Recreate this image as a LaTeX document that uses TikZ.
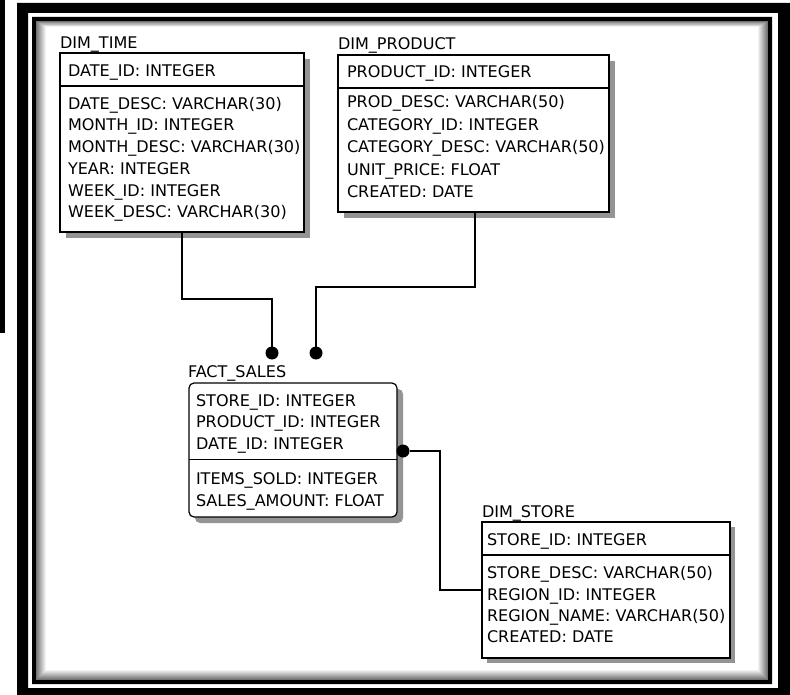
\documentclass[tikz,border=0pt]{standalone}
\usepackage{fontspec}
\setmainfont{DejaVu Sans}
\begin{document}
\begin{tikzpicture}[x=1pt,y=-1pt,
  tbl/.style={draw=black, line width=1.2pt, fill=white, anchor=north west, inner sep=0pt, outer sep=0pt},
  shadowbox/.style={fill=black!42},
  txt/.style={anchor=base west, inner sep=0pt, outer sep=0pt, font=\fontsize{16.05pt}{19pt}\selectfont},
  sep/.style={line width=1.2pt},
  conn/.style={line width=1.5pt},
  dot/.style={circle, fill=black, minimum size=13pt, inner sep=0pt, outer sep=0pt}]
\useasboundingbox (0,0) rectangle (790,695);
\fill[white] (0,0) rectangle (790,695);
% left bar
\fill[black] (0,0) rectangle (5,333);
% frames
\fill[black, even odd rule] (17,3) rectangle (790,695) (28,13) rectangle (778,688);
\fill[black, even odd rule] (32,17) rectangle (772,684) (36,21) rectangle (768,680);
\foreach \k in {0,...,9}{
  \pgfmathtruncatemacro\c{55-5.5*\k}
  \draw[black!\c, line width=1pt] ({36.5+\k},{21.5+0.6*\k}) rectangle ({767.5-\k},{679.5-\k});
}
% DIM_TIME
\fill[shadowbox] (66,59) rectangle (310,238);
\node[tbl, minimum width=244pt, minimum height=179pt] (time) at (60,53) {};
\draw[sep] ([yshift=-33pt]time.north west) -- ([yshift=-33pt]time.north east);
\node[txt] (time-t) at (60,49) {DIM\_TIME};
\node[txt] (time-k) at (68,76.5) {DATE\_ID: INTEGER};
\foreach \s [count=\i] in {{DATE\_DESC: VARCHAR(30)},{MONTH\_ID: INTEGER},{MONTH\_DESC: VARCHAR(30)},{YEAR: INTEGER},{WEEK\_ID: INTEGER},{WEEK\_DESC: VARCHAR(30)}}
  \node[txt] (time-\i) at (68,{109.3+(\i-1)*21.7}) {\s};
% DIM_PRODUCT
\fill[shadowbox] (344,61) rectangle (615,218);
\node[tbl, minimum width=271pt, minimum height=157pt] (prod) at (338,55) {};
\draw[sep] ([yshift=-33pt]prod.north west) -- ([yshift=-33pt]prod.north east);
\node[txt] (prod-t) at (338,50) {DIM\_PRODUCT};
\node[txt] (prod-k) at (347,77.7) {PRODUCT\_ID: INTEGER};
\foreach \s [count=\i] in {{PROD\_DESC: VARCHAR(50)},{CATEGORY\_ID: INTEGER},{CATEGORY\_DESC: VARCHAR(50)},{UNIT\_PRICE: FLOAT},{CREATED: DATE}}
  \node[txt] (prod-\i) at (347,{107.7+(\i-1)*22.5}) {\s};
% FACT_SALES
\fill[shadowbox, rounded corners=5pt] (195,389) rectangle (403,523);
\node[tbl, minimum width=208pt, minimum height=134pt, rounded corners=5pt] (fact) at (189,383) {};
\draw[sep] ([yshift=-76.5pt]fact.north west) -- ([yshift=-76.5pt]fact.north east);
\node[txt] (fact-t) at (188,377.7) {FACT\_SALES};
\foreach \s [count=\i] in {{STORE\_ID: INTEGER},{PRODUCT\_ID: INTEGER},{DATE\_ID: INTEGER}}
  \node[txt] (fact-k\i) at (196,{406+(\i-1)*21.7}) {\s};
\foreach \s [count=\i] in {{ITEMS\_SOLD: INTEGER},{SALES\_AMOUNT: FLOAT}}
  \node[txt] (fact-\i) at (196,{484.3+(\i-1)*21.7}) {\s};
% DIM_STORE
\fill[shadowbox] (487,527) rectangle (735,663);
\node[tbl, minimum width=248pt, minimum height=136pt] (store) at (482,522) {};
\draw[sep] ([yshift=-33pt]store.north west) -- ([yshift=-33pt]store.north east);
\node[txt] (store-t) at (482,517.7) {DIM\_STORE};
\node[txt] (store-k) at (487,545) {STORE\_ID: INTEGER};
\foreach \s [count=\i] in {{STORE\_DESC: VARCHAR(50)},{REGION\_ID: INTEGER},{REGION\_NAME: VARCHAR(50)},{CREATED: DATE}}
  \node[txt] (store-\i) at (487,{578.7+(\i-1)*21.35}) {\s};
% dots
\node[dot] (d1) at (272,353) {};
\node[dot] (d2) at (316,353) {};
\node[dot] (d3) at (403,451) {};
% connectors
\coordinate (c1) at (182,299);
\coordinate (c2) at (475,287);
\coordinate (c3) at (440,451);
\draw[conn] (c1 |- time.south) -- (c1) -| (d1);
\draw[conn] (c2 |- prod.south) -- (c2) -| (d2);
\draw[conn] (d3) -- (c3) |- (store.west);
\end{tikzpicture}
\end{document}
